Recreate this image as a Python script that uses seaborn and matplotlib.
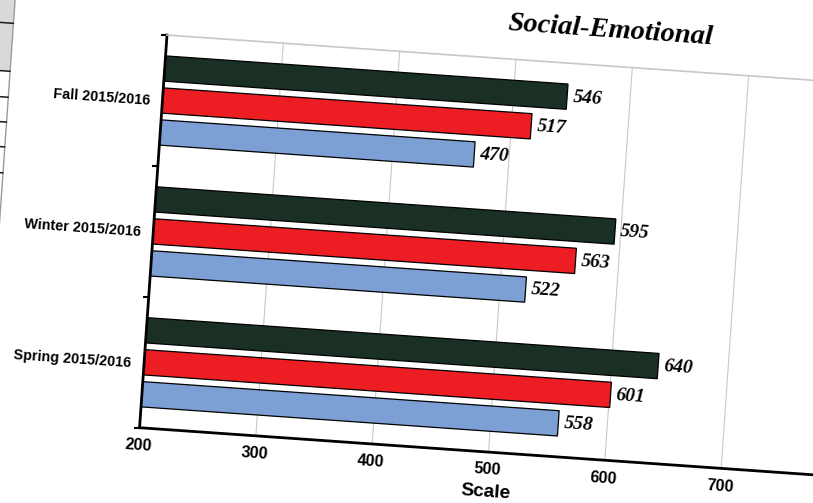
import matplotlib
matplotlib.use("Agg")
import pandas as pd
import matplotlib.pyplot as plt
import matplotlib.transforms as mtransforms
from matplotlib.figure import Figure
from matplotlib.path import Path
from matplotlib.patches import Rectangle
from matplotlib.lines import Line2D
import seaborn as sns

# ---- data -------------------------------------------------------------
terms = ["Fall 2015/2016", "Winter 2015/2016", "Spring 2015/2016"]
groups = ["Group 1", "Group 2", "Group 3"]
group1_scores = [546, 595, 640]
group2_scores = [517, 563, 601]
group3_scores = [470, 522, 558]
x_ticks = [200, 300, 400, 500, 600, 700]
bar_colors = ["#1b3024", "#ec1e24", "#7c9fd4"]
title_text = "Social-Emotional"
x_label = "Scale"

df = pd.DataFrame({
    "term": terms * 3,
    "group": [g for g in groups for _ in terms],
    "score": group1_scores + group2_scores + group3_scores,
})

# ---- page geometry (pixels) -------------------------------------------
W, H, DPI = 813, 503, 100
TILT = -4.0                      # page is slightly turned clockwise
AX_LEFT, AX_TOP, AX_BOTTOM, AX_WIDTH = 152.5, 52.3, 445.9, 699.6


def fx(px):
    return px / W


def fy(py):
    return 1 - py / H


sns.set_style("white")
plt.rcParams["font.family"] = ["Liberation Sans", "DejaVu Sans"]
plt.rcParams["font.weight"] = "bold"
plt.rcParams["text.color"] = "black"
plt.rcParams["axes.labelcolor"] = "black"
plt.rcParams["xtick.color"] = "black"
plt.rcParams["ytick.color"] = "black"
SERIF = dict(family=["Liberation Serif", "DejaVu Serif"], style="italic",
             weight="bold", color="black")

fig = plt.figure(figsize=(W / DPI, H / DPI), dpi=DPI)
ax = fig.add_axes([fx(AX_LEFT), fy(AX_BOTTOM), AX_WIDTH / W,
                   (AX_BOTTOM - AX_TOP) / H])
ax.set_facecolor("none")

sns.barplot(data=df, y="term", x="score", hue="group", order=terms,
            hue_order=groups, palette=bar_colors, orient="h",
            width=0.733, gap=0.21, edgecolor="black", linewidth=0.9,
            saturation=1, legend=False, ax=ax)

for container in ax.containers:
    ax.bar_label(container, fmt="%d", padding=4.0, fontsize=14, **SERIF)

ax.set_xlim(200, 800)
ax.set_xticks(x_ticks)
ax.set_ylim(2.5, -0.5)
ax.set_yticks([-0.5, 0.5, 1.5, 2.5], minor=True)
ax.tick_params(axis="x", which="major", length=3.6, width=1.5, pad=3.8,
               labelsize=11.8, labelcolor="black", color="black")
ax.tick_params(axis="y", which="major", length=0, pad=9, labelsize=10.4,
               labelcolor="black")
ax.tick_params(axis="y", which="minor", length=4.5, width=1.5,
               color="black", left=True)
ax.xaxis.grid(True, color="#c8c8c8", linewidth=0.8)
ax.yaxis.grid(False)
ax.set_axisbelow(True)
ax.set_ylabel("")
ax.set_xlabel(x_label, fontsize=13.8, fontweight="bold", color="black",
              labelpad=4.5)

for side in ("left", "bottom"):
    ax.spines[side].set_color("black")
    ax.spines[side].set_linewidth(2.0)
for side in ("top", "right"):
    ax.spines[side].set_color("#c8c8c8")
    ax.spines[side].set_linewidth(1.2)

fig.text(fx(594.9), fy(17.0), title_text, fontsize=20.5, ha="center",
         va="center", **SERIF)

# corner of the neighbouring table on the page
for art in [
    Rectangle((fx(-90), fy(99.4)), 88.5 / W, 189.4 / H,
              transform=fig.transFigure, facecolor="#d9d9d9",
              edgecolor="none"),
    Line2D([fx(-1.5)] * 2, [fy(-90), fy(260)], transform=fig.transFigure,
           color="#9a9a9a", linewidth=1.0),
] + [
    Line2D([fx(-90), fx(-1.5)], [fy(y), fy(y)], transform=fig.transFigure,
           color="#1a1a1a", linewidth=1.1)
    for y in (51.3, 99.4, 125.4, 150.3, 175.2, 201.2)
]:
    fig.add_artist(art)
    art.set_clip_on(False)


# ---- render the whole sheet turned by TILT degrees ---------------------
class TiltedRenderer:
    """Wraps a renderer and turns everything it draws about a centre."""

    def __init__(self, base, angle, cx, cy):
        self._base = base
        self._angle = angle
        self._rot = mtransforms.Affine2D().rotate_deg_around(cx, cy, angle)
        self._spin = mtransforms.Affine2D().rotate_deg(angle)

    def __getattr__(self, name):
        return getattr(self._base, name)

    def _tilt_clip(self, gc):
        box = gc.get_clip_rectangle()
        tpath, affine = gc.get_clip_path()
        gc.set_clip_rectangle(None)
        if tpath is not None:
            gc.set_clip_path(mtransforms.TransformedPath(
                tpath, affine + self._rot))
        elif box is not None:
            gc.set_clip_path(mtransforms.TransformedPath(
                Path.unit_rectangle(),
                mtransforms.BboxTransformTo(box) + self._rot))

    def draw_path(self, gc, path, transform, rgbFace=None):
        self._tilt_clip(gc)
        self._base.draw_path(gc, path, transform + self._rot, rgbFace)

    def draw_markers(self, gc, marker_path, marker_trans, path, trans,
                     rgbFace=None):
        self._tilt_clip(gc)
        self._base.draw_markers(gc, marker_path, marker_trans + self._spin,
                                path, trans + self._rot, rgbFace)

    def draw_text(self, gc, x, y, s, prop, angle, ismath=False, mtext=None):
        gc.set_clip_rectangle(None)
        gc.set_clip_path(None)
        h = self._base.get_canvas_width_height()[1]
        xr, yr = self._rot.transform((x, h - y))
        self._base.draw_text(gc, xr, h - yr, s, prop, angle + self._angle,
                             ismath, mtext)


def tilted_draw(renderer):
    fig.patch.draw(renderer)
    fig.patch.set_visible(False)
    try:
        Figure.draw(fig, TiltedRenderer(renderer, TILT, W / 2, H / 2))
    finally:
        fig.patch.set_visible(True)


fig.draw = tilted_draw
fig.savefig("out.png", dpi=DPI, facecolor="white")
